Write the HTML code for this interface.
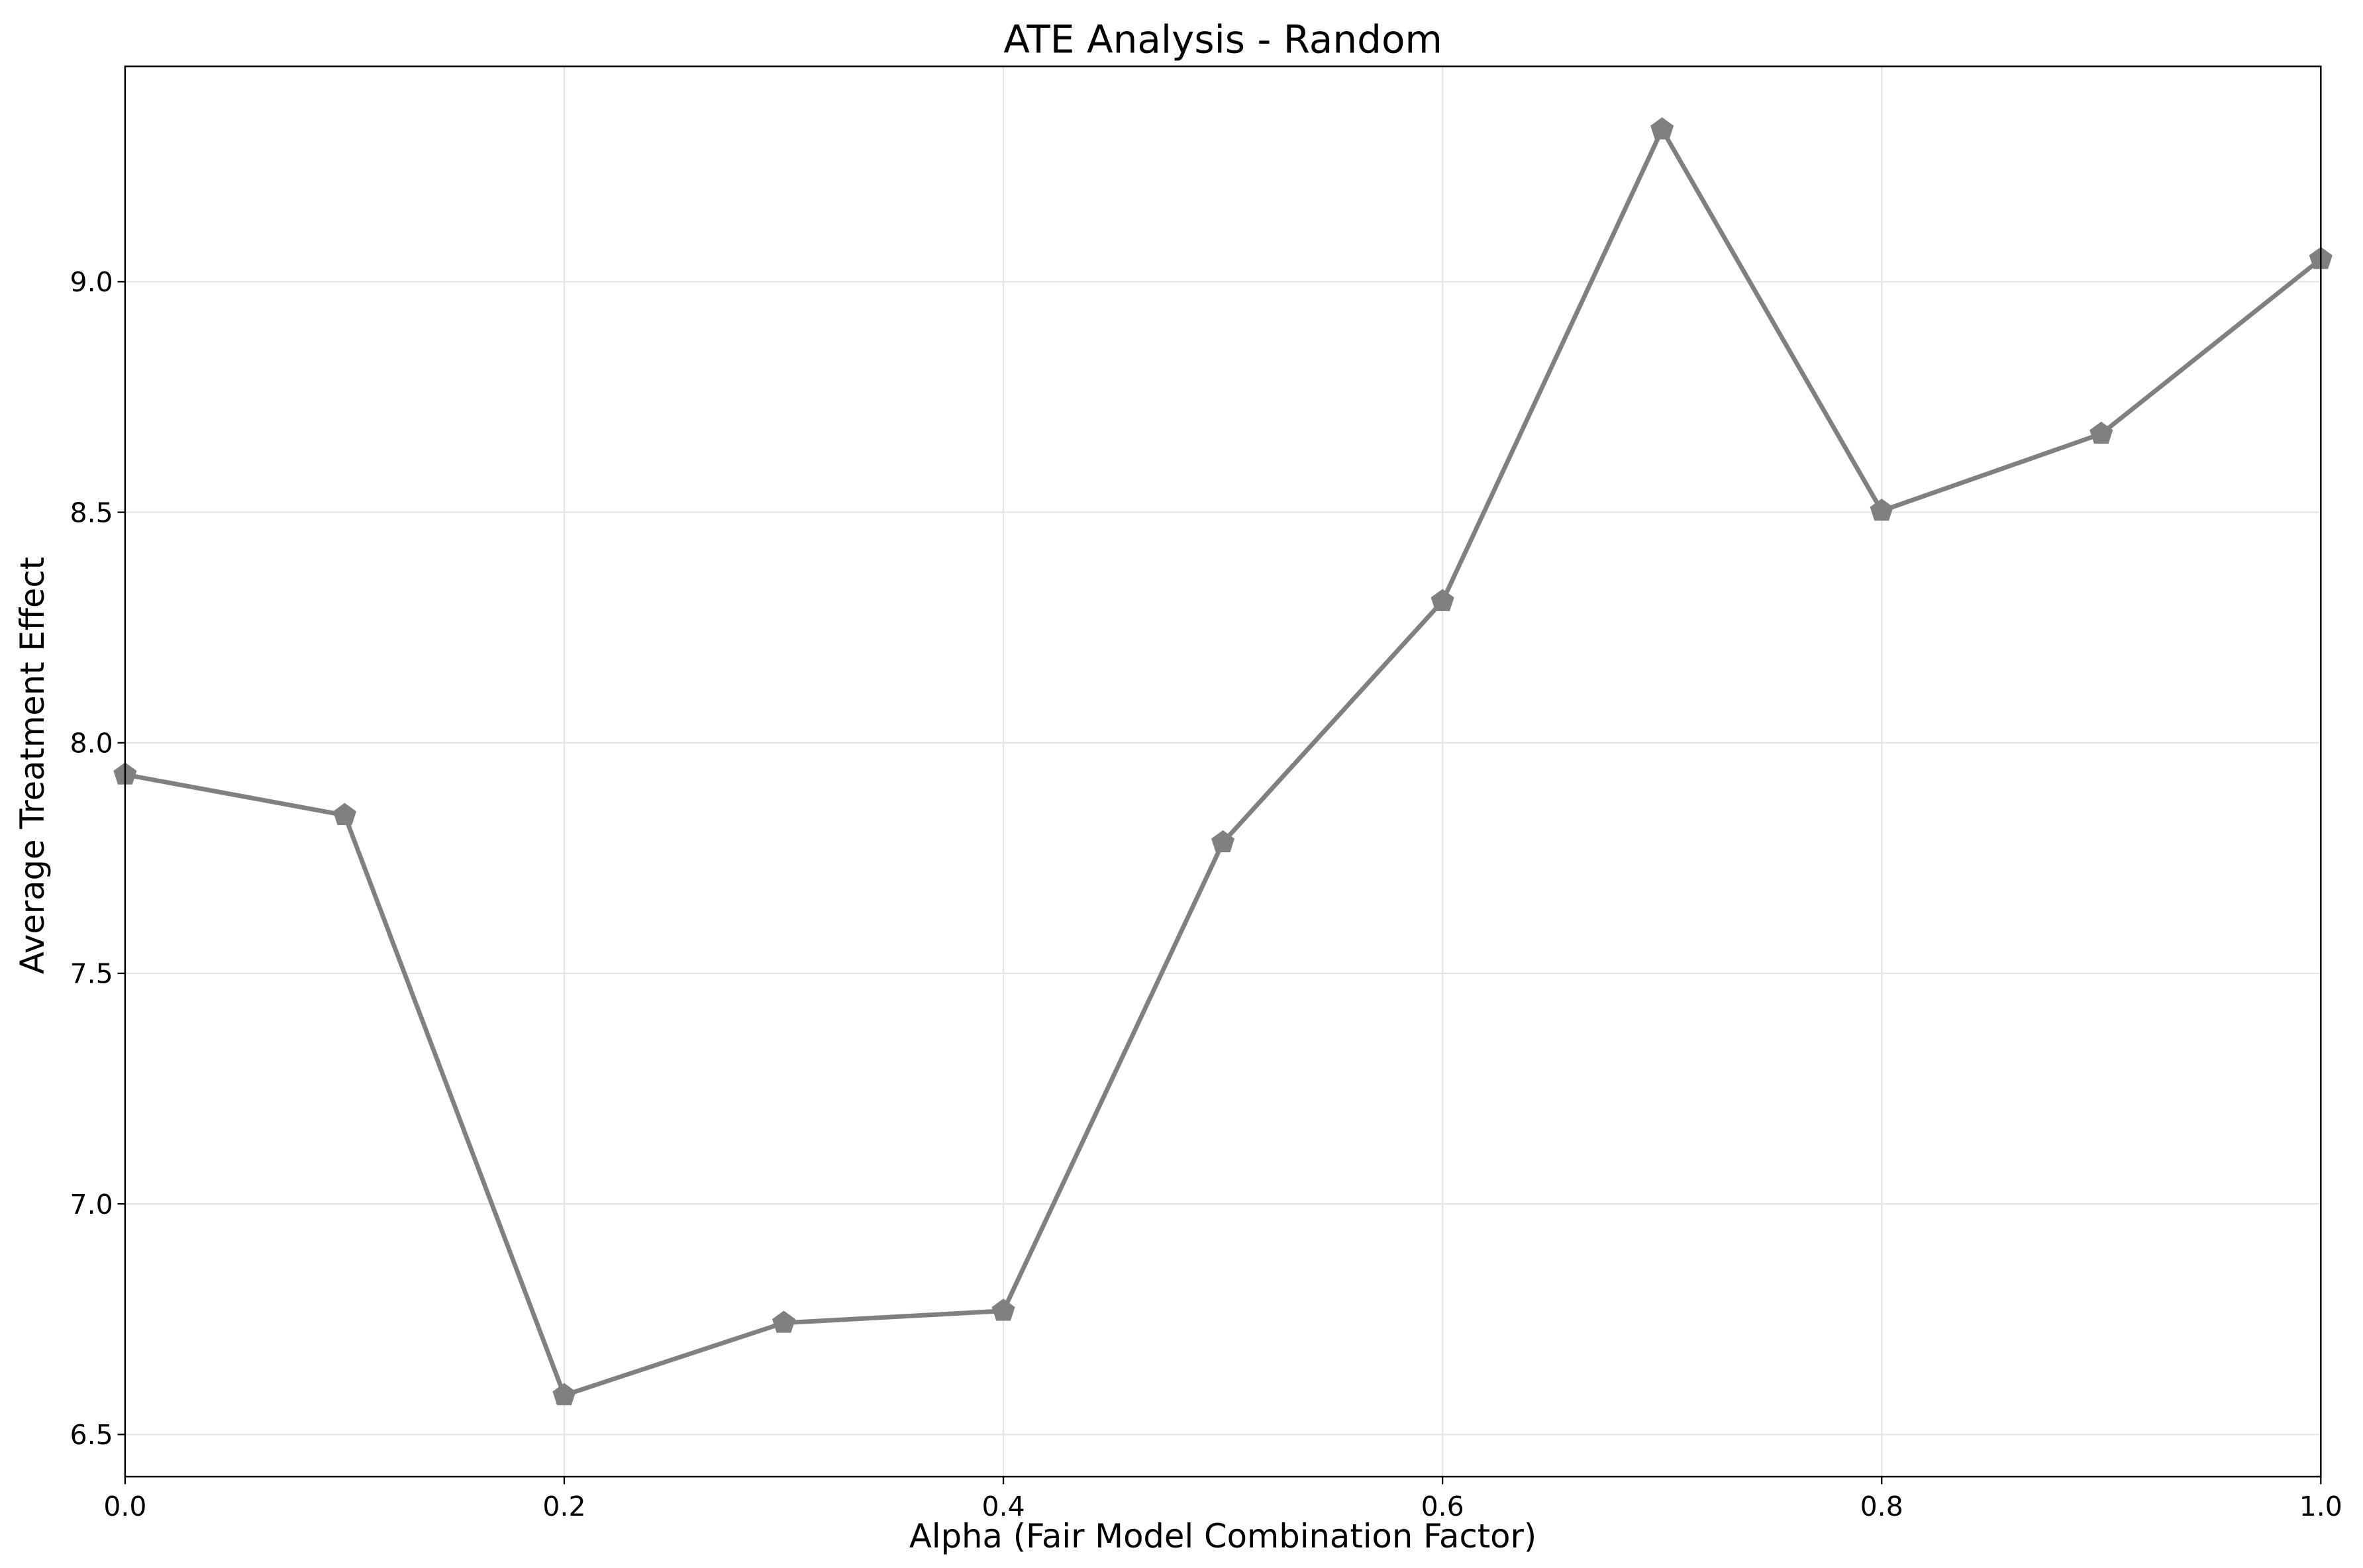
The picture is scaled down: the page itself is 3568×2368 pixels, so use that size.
<!DOCTYPE html>
<html><head><meta charset="utf-8"><style>
html,body{margin:0;padding:0;background:#fff;}
svg{display:block;font-family:"DejaVu Sans","Liberation Sans",sans-serif;}
</style></head><body>
<svg id="chart" width="3568" height="2368" viewBox="0 0 1568 1040.6" xmlns="http://www.w3.org/2000/svg">
<rect width="1568" height="1040.6" fill="#fff"/>
<g id="grid"></g>
<g id="series"></g>
<rect x="83" y="44" width="1457" height="936" fill="none" stroke="#000" stroke-width="1.1"/>
<g id="ticks"></g>
<text x="811.5" y="35" font-size="25.5" text-anchor="middle">ATE Analysis - Random</text>
<text x="811.5" y="1027" font-size="21.8" text-anchor="middle">Alpha (Fair Model Combination Factor)</text>
<text transform="translate(29,508) rotate(-90)" font-size="21.8" text-anchor="middle">Average Treatment Effect</text>
</svg>
<script>
const alphas = [0.0,0.1,0.2,0.3,0.4,0.5,0.6,0.7,0.8,0.9,1.0];
const ateValues = [7.931,7.843,6.585,6.742,6.768,7.784,8.307,9.330,8.503,8.670,9.049];
const xTickLabels = ["0.0","0.2","0.4","0.6","0.8","1.0"];
const yTickLabels = ["6.5","7.0","7.5","8.0","8.5","9.0"];

const NS = "http://www.w3.org/2000/svg";
const L=83,R=1540,T=44,B=980;
const xMin=0,xMax=1,yMin=6.4085,yMax=9.467;
const xs=v=>L+(v-xMin)/(xMax-xMin)*(R-L);
const ys=v=>B-(v-yMin)/(yMax-yMin)*(B-T);
function mk(tag,attrs,parent){const e=document.createElementNS(NS,tag);for(const k in attrs)e.setAttribute(k,attrs[k]);parent.appendChild(e);return e;}
const grid=document.getElementById('grid'),ticks=document.getElementById('ticks'),series=document.getElementById('series');

xTickLabels.forEach(t=>{const v=parseFloat(t),x=xs(v);
 const g=mk('line',{x1:x,x2:x,y1:T,y2:B,stroke:'#e5e5e5','stroke-width':1},grid);
 
 
 const tk=mk('line',{x1:x,x2:x,y1:B,y2:B+5,stroke:'#000','stroke-width':1},ticks);
 
 
 const tx=mk('text',{x:x,y:B+26,'font-size':18,'text-anchor':'middle'},ticks);tx.textContent=t;
 
 
});
yTickLabels.forEach(t=>{const v=parseFloat(t),y=ys(v);
 const g=mk('line',{x1:L,x2:R,y1:y,y2:y,stroke:'#e5e5e5','stroke-width':1},grid);
 
 
 const tk=mk('line',{x1:L-5,x2:L,y1:y,y2:y,stroke:'#000','stroke-width':1},ticks);
 
 
 const tx=mk('text',{x:L-8,y:y+6.5,'font-size':18,'text-anchor':'end'},ticks);tx.textContent=t;
 
 
});
const pts=alphas.map((a,i)=>[xs(a),ys(ateValues[i])]);
const line=mk('polyline',{points:pts.map(p=>p.join(',')).join(' '),fill:'none',stroke:'#808080','stroke-width':3,'stroke-linejoin':'round'},series);


pts.forEach(([x,y])=>{
 const r=7.5,p=[];for(let k=0;k<5;k++){const a=-Math.PI/2+k*2*Math.PI/5;p.push((x+r*Math.cos(a)).toFixed(2)+','+(y+r*Math.sin(a)).toFixed(2));}
 const m=mk('polygon',{points:p.join(' '),fill:'#808080',stroke:'#808080','stroke-width':1},series);
 
 
});
</script>
</body></html>
